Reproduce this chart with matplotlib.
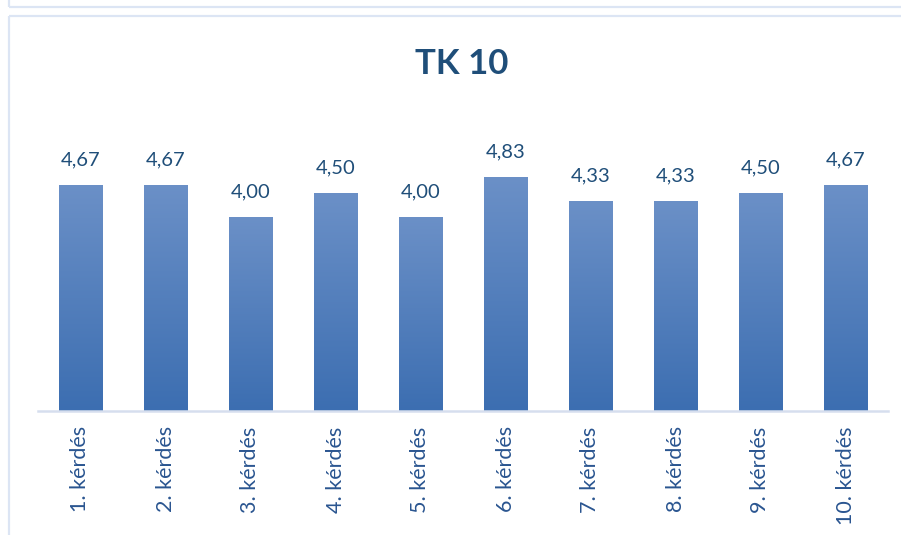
import matplotlib
matplotlib.use("Agg")
import matplotlib.pyplot as plt
import numpy as np
from matplotlib.lines import Line2D
from matplotlib.colors import LinearSegmentedColormap

categories = ["1. kérdés", "2. kérdés", "3. kérdés", "4. kérdés", "5. kérdés",
              "6. kérdés", "7. kérdés", "8. kérdés", "9. kérdés", "10. kérdés"]
values = [4.67, 4.67, 4.00, 4.50, 4.00, 4.83, 4.33, 4.33, 4.50, 4.67]
title = "TK 10"

W, H = 901, 535
fig = plt.figure(figsize=(W / 100, H / 100), dpi=100)
fig.patch.set_facecolor("white")

frame_c = "#DCE5F4"
def fline(x0, y0, x1, y1, lw=1.6):
    fig.add_artist(Line2D([x0 / W, x1 / W], [1 - y0 / H, 1 - y1 / H],
                          color=frame_c, lw=lw, transform=fig.transFigure,
                          solid_capstyle="butt"))
# upper chart frame (bottom edge) and this chart's frame
fline(9, 0, 9, 7)
fline(9, 7, W + 5, 7)
fline(9, 16, W + 5, 16)
fline(9, 16, 9, H + 5)

ymax = 5.5
left, right, base, top = 38, 888, 411, 411 - 5.5 * 48.4
ax = fig.add_axes([left / W, 1 - base / H, (right - left) / W, (base - top) / H])
ax.set_facecolor("none")
x = np.arange(len(categories))
bars = ax.bar(x, values, width=0.51, color="none", edgecolor="none", zorder=2)
cmap = LinearSegmentedColormap.from_list("g", ["#3C6EB1", "#6B90C7"])
grad = np.linspace(0, 1, 256).reshape(-1, 1)
for b in bars:
    im = ax.imshow(grad, cmap=cmap, origin="lower", aspect="auto",
                   extent=[b.get_x(), b.get_x() + b.get_width(), 0, b.get_height()],
                   zorder=2)
    im.set_clip_path(b)
for xi, v in zip(x, values):
    ax.annotate(f"{v:.2f}".replace(".", ","), (xi, v), xytext=(0, 12),
                textcoords="offset points", ha="center", va="bottom",
                fontsize=14.5, color="#1F4E79", family="Lato")
ax.set_xlim(-0.5, len(categories) - 0.5)
ax.set_ylim(0, ymax)
for s in ["top", "right", "left"]:
    ax.spines[s].set_visible(False)
ax.spines["bottom"].set_color("#D6DEEE")
ax.spines["bottom"].set_linewidth(1.8)
ax.set_yticks([])
ax.set_xticks(x)
ax.set_xticklabels(categories, rotation=90, fontsize=15.5, color="#2A5590", family="Lato")
ax.tick_params(axis="x", length=0, pad=11)

fig.text(462 / W, 1 - 64 / H, title, ha="center", va="center", fontsize=25,
         fontweight="bold", color="#1F4E79", family="Lato")

fig.savefig("out.png", dpi=100)
